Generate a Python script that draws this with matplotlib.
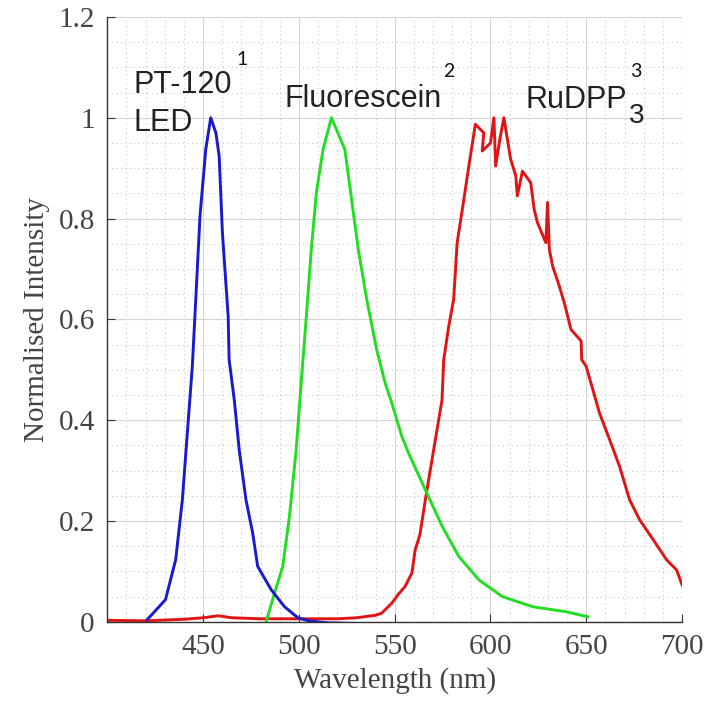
import matplotlib.pyplot as plt
from matplotlib.ticker import MultipleLocator

# PT-120 LED (blue)
led_nm = [420.8, 430.4, 435.7, 439.2, 441.8, 444.4, 446.2, 448.4, 451.4, 454.0,
          456.7, 458.4, 460.1, 463.1, 463.6, 466.3, 468.9, 472.4, 475.9, 478.5,
          485.5, 492.5, 499.5, 505, 515, 528]
led_val = [0.004, 0.044, 0.123, 0.242, 0.375, 0.507, 0.64, 0.805, 0.937, 1.0,
           0.97, 0.924, 0.772, 0.606, 0.52, 0.44, 0.34, 0.242, 0.176, 0.11,
           0.064, 0.03, 0.008, 0.002, -0.002, -0.003]

# Fluorescein (green)
flu_nm = [482.9, 487.3, 491.6, 495.1, 498.6, 501.2, 503.9, 506.5, 509.1, 512.6,
          517.0, 524.0, 527.5, 531.0, 535.4, 540.6, 545.0, 548.5, 553.7, 557.2,
          566.0, 574.7, 583.4, 594.0, 606.2, 621.9, 639.4, 650.8]
flu_val = [0.0, 0.057, 0.11, 0.21, 0.342, 0.474, 0.606, 0.739, 0.85, 0.937,
           1.0, 0.937, 0.838, 0.739, 0.64, 0.54, 0.474, 0.434, 0.368, 0.335,
           0.262, 0.19, 0.13, 0.083, 0.05, 0.03, 0.02, 0.01]

# RuDPP3 (red)
ru_nm = [400, 420, 440, 450, 458, 465, 480, 500, 520, 530, 540, 543.2, 548.5,
         552, 555.4, 559.0, 560.7, 562.4, 563.3, 566.0, 569.5, 572.1, 574.7,
         575.6, 578.2, 580.8, 582.6, 586.1, 588.7, 592.1, 596.5, 595.7, 600.0,
         601.8, 602.7, 605.0, 607.0, 610.5, 613.2, 614.0, 616.7, 621.0, 622.8,
         624.5, 628.9, 629.8, 630.7, 632.4, 635.9, 638.5, 642.0, 647.3, 647.6,
         649.9, 653.4, 656.9, 662.2, 667.4, 672.6, 677.9, 684.9, 691.9, 697.1,
         700.0]
ru_val = [0.003, 0.002, 0.005, 0.008, 0.012, 0.008, 0.006, 0.006, 0.006, 0.008,
          0.013, 0.017, 0.037, 0.055, 0.07, 0.097, 0.143, 0.163, 0.176, 0.242,
          0.322, 0.381, 0.44, 0.52, 0.586, 0.64, 0.752, 0.838, 0.904, 0.987,
          0.97, 0.934, 0.95, 1.0, 0.904, 0.96, 1.0, 0.918, 0.885, 0.845, 0.894,
          0.871, 0.818, 0.792, 0.752, 0.832, 0.739, 0.706, 0.666, 0.633, 0.58,
          0.557, 0.52, 0.507, 0.461, 0.414, 0.361, 0.308, 0.242, 0.202, 0.163,
          0.123, 0.103, 0.073]

fig = plt.figure(figsize=(7.15, 7.05), dpi=100)
ax = fig.add_axes([0.150, 0.118, 0.804, 0.858])

ax.plot(ru_nm, ru_val, color='#e01414', lw=2.1)
ax.plot(flu_nm, flu_val, color='#22dd22', lw=2.1)
ax.plot(led_nm, led_val, color='#1a1acc', lw=2.1)

ax.set_xlim(400, 700)
ax.set_ylim(0, 1.2)
ax.xaxis.set_minor_locator(MultipleLocator(10))
ax.yaxis.set_minor_locator(MultipleLocator(0.05))
ax.set_xticks([450, 500, 550, 600, 650, 700])
ax.set_yticks([0, 0.2, 0.4, 0.6, 0.8, 1, 1.2])
ax.set_yticklabels(['0', '0.2', '0.4', '0.6', '0.8', '1', '1.2'])

ax.grid(which='major', color='#d4d4d4', lw=0.8, ls='-')
ax.grid(which='minor', color='#c8c8c8', lw=0.8, ls=(0, (1, 3)))
ax.set_axisbelow(True)

for s in ['top', 'right']:
    ax.spines[s].set_visible(False)
for s in ['left', 'bottom']:
    ax.spines[s].set_color('#333333')
    ax.spines[s].set_linewidth(1.0)

ax.tick_params(which='major', direction='in', length=6, color='#333333',
               labelsize=21, labelcolor='#444444', pad=9)
ax.tick_params(which='minor', length=0)
for lab in ax.get_xticklabels() + ax.get_yticklabels():
    lab.set_family('Liberation Serif')

ax.set_xlabel('Wavelength (nm)', family='Liberation Serif', fontsize=21,
              color='#444444', labelpad=5)
ax.set_ylabel('Normalised Intensity', family='Liberation Serif', fontsize=21,
              color='#444444', labelpad=6)

sans = 'Liberation Sans'
sup = 'Lato'
ax.text(413.6, 1.065, 'PT-120', family=sans, fontsize=22, color='#222222', va='center')
ax.text(413.6, 0.99, 'LED', family=sans, fontsize=22, color='#222222', va='center')
ax.text(467.5, 1.116, '1', family=sup, fontsize=14, color='#111111', va='center')
ax.text(492.3, 1.037, 'Fluorescein', family=sans, fontsize=22, color='#222222', va='center')
ax.text(575.5, 1.092, '2', family=sup, fontsize=14, color='#111111', va='center')
ax.text(618.3, 1.035, 'RuDPP', family=sans, fontsize=22, color='#222222', va='center')
ax.text(672.0, 1.003, '3', family=sans, fontsize=20, color='#222222', va='center')
ax.text(673.0, 1.092, '3', family=sup, fontsize=14, color='#111111', va='center')

fig.savefig('out.png', dpi=100)
